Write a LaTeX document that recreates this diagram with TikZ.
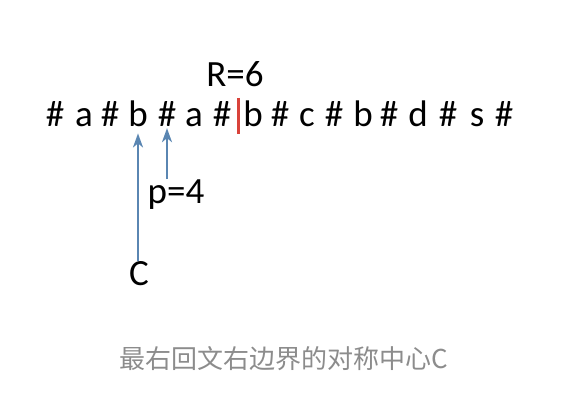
\documentclass[tikz,border=0pt]{standalone}
\usepackage{fontspec}
\setmainfont{Carlito}
\newfontfamily\cjkfont{Noto Sans CJK SC}
\usetikzlibrary{arrows.meta,calc}

\definecolor{arrowblue}{HTML}{5A86B2}
\definecolor{barred}{HTML}{D9433B}
\definecolor{capgray}{HTML}{8C8C8C}

\begin{document}
\begin{tikzpicture}[
  x=1pt, y=-1pt,
  font=\fontsize{37}{42}\selectfont,
  chr/.style={anchor=base, inner sep=1pt},
  lbl/.style={anchor=base, inner sep=1pt},
  ptr/.style={draw=arrowblue, line width=1.9pt, -{Stealth[length=14pt, width=10pt, inset=4pt]}},
  rbar/.style={draw=barred, line width=3pt}
]
  \useasboundingbox (0,0) rectangle (566,406);

  % the padded string
  \foreach \cx/\ch [count=\i] in {55/\#, 84/a, 110/\#, 138/b, 167/\#, 194/a, 222/\#,
      253/b, 280/\#, 307/c, 334/\#, 363/b, 389/\#, 418/d, 448/\#, 477/s, 504/\#}
    \node[chr] (c\i) at (\cx,127) {\ch};

  \node[lbl] (R) at (235,87) {R=6};
  \draw[rbar] (238,98) -- (238,134);

  \node[lbl] (p) at (176,204) {p=4};
  \node[lbl] (C) at (139,286) {C};

  \draw[ptr] (c4 |- C.north) -- ([yshift=-5pt]c4.south);
  \draw[ptr] (c5 |- p.north) -- (c5.south);

  \node[lbl, text=capgray, font=\cjkfont\fontsize{26}{30}\selectfont] (cap) at (284,369)
    {最右回文右边界的对称中心C};
\end{tikzpicture}
\end{document}
